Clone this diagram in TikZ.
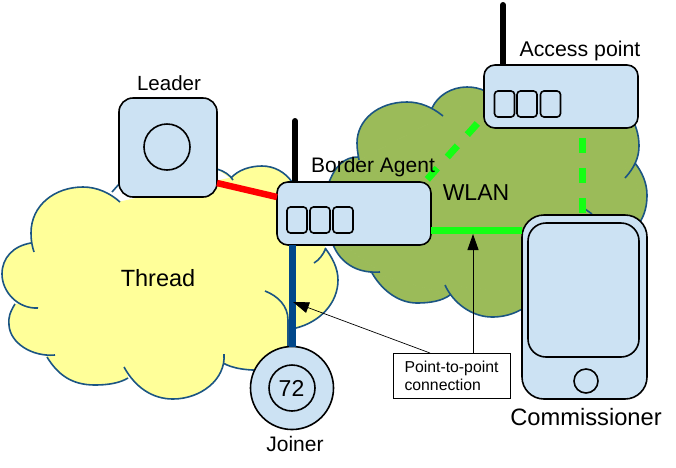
\documentclass[tikz,border=0pt]{standalone}
\usepackage{fontspec}
\setmainfont{Liberation Sans}
\usetikzlibrary{arrows.meta}

\definecolor{devblue}{HTML}{CCE2F3}
\definecolor{threadyellow}{HTML}{FFFF99}
\definecolor{wlangreen}{HTML}{9BBB59}
\definecolor{cloudblue}{HTML}{1B5583}
\definecolor{linkblue}{HTML}{00478A}
\definecolor{linkgreen}{HTML}{14FF14}

\tikzset{
  device/.style={draw=black, fill=devblue, line width=1.6pt, outer sep=0pt, inner sep=0pt, rounded corners=#1},
  slot/.style={device=3.5pt, minimum width=20pt, minimum height=26pt},
  ring/.style={draw=black, fill=devblue, line width=1.6pt, circle, outer sep=0pt, inner sep=0pt},
  antenna/.style={line width=6pt, line cap=round},
  cloudline/.style={draw=cloudblue, line width=1.6pt},
  wifi/.style={draw=linkgreen, line width=7pt},
  wifidash/.style={wifi, dash pattern=on 15pt off 15pt, dash phase=20pt},
  callout/.style={line width=0.7pt, -{Triangle[length=16pt, width=11pt]}},
  caption/.style={anchor=base, inner sep=0pt}
}

% cloud outlines, one open stroke per lobe
\def\wlanlobes{
  (443,116) .. controls (432,107) and (420,102) .. (407,102) .. controls (378,102) and (357,120) .. (357,143) .. controls (357,149) and (358,154) .. (359,160)
  (432,108) .. controls (438,95) and (452,87) .. (467,87) .. controls (480,87) and (492,92) .. (500,105)
  (630,115) .. controls (636,125) and (639,135) .. (639,146) .. controls (639,158) and (634,168) .. (625,178)
  (635,163) .. controls (642,172) and (647,183) .. (647,195) .. controls (647,205) and (645,214) .. (640,222)
  (358,157) .. controls (345,157) and (335,165) .. (328,185)
  (330,235) .. controls (335,258) and (352,274) .. (380,272)
  (372,273) .. controls (383,292) and (400,303) .. (417,303) .. controls (430,303) and (442,301) .. (450,295)
  (445,285) .. controls (453,303) and (472,317) .. (492,317) .. controls (510,317) and (525,310) .. (540,295)
  (585,209) -- (592,214)
}
\def\threadlobes{
  (120,202) .. controls (110,193) and (97,187) .. (83,187) .. controls (55,187) and (31,205) .. (31,233) .. controls (31,240) and (32,246) .. (34,252)
  (31,243) .. controls (13,246) and (2,258) .. (2,274) .. controls (2,292) and (18,309) .. (38,308)
  (15,304) .. controls (10,312) and (8,318) .. (9,325) .. controls (10,343) and (32,357) .. (55,355)
  (47,357) .. controls (58,375) and (72,385) .. (95,385) .. controls (108,385) and (120,383) .. (128,378)
  (124,367) .. controls (135,387) and (152,399) .. (173,399) .. controls (200,399) and (226,380) .. (224,354)
  (223,363) .. controls (232,368) and (245,371) .. (270,370)
  (296,328) .. controls (320,322) and (338,303) .. (338,280) .. controls (338,268) and (332,257) .. (325,248)
  (314,263) .. controls (319,260) and (323,255) .. (326,248)
  (265,291) .. controls (278,296) and (288,306) .. (288,320) -- (288,350)
  (231,178) .. controls (238,170) and (250,166) .. (262,166) .. controls (274,166) and (285,172) .. (292,182)
  (217,169) .. controls (224,171) and (230,175) .. (233,180)
  (112,192) -- (120,183)
}

\begin{document}
\begin{tikzpicture}[x=1pt, y=-1pt]
  \useasboundingbox (0,0) rectangle (676,467);

  % clouds
  \fill[wlangreen] \wlanlobes;
  \filldraw[wlangreen, line width=1pt] (443,116) -- (359,160) -- (358,157) -- (328,185) -- (330,235) -- (380,272) -- (372,273) -- (450,295) -- (445,285) -- (540,295) -- (640,222) -- (635,163) -- (625,178) -- (630,115) -- (500,105) -- (432,108) -- cycle;
  \draw[cloudline] \wlanlobes;
  \fill[threadyellow] \threadlobes;
  \filldraw[threadyellow, line width=1pt] (120,202) -- (34,252) -- (31,243) -- (38,308) -- (15,304) -- (55,355) -- (47,357) -- (128,378) -- (124,367) -- (224,354) -- (223,363) -- (270,370) -- (288,350) -- (288,330) -- (296,328) -- (325,248) -- (292,182) -- (231,178) -- cycle;
  \draw[cloudline] \threadlobes;

  % devices
  \coordinate (agenttip) at (295,121);
  \coordinate (accesstip) at (503,5);
  \draw[antenna] (agenttip) -- (295,182);
  \draw[antenna] (accesstip) -- (503,65);

  % links
  \coordinate (apdash) at (484,116);
  \coordinate (agentdash) at (424,183);
  \coordinate (dashtop) at (582,128);
  \coordinate (dashend) at (582,215);
  \draw[wifidash] (apdash) -- (agentdash);
  \draw[wifidash] (dashtop) -- (dashend);

  \node[device=14pt, minimum width=98pt, minimum height=99pt] (leader) at (168,147.5) {};
  \node[ring, minimum size=46pt] (leaderring) at (167,147) {};

  \node[device=11pt, minimum width=154pt, minimum height=63pt] (agent) at (354,213.5) {};
  \node[slot] (agentslota) at (297,220) {};
  \node[slot] (agentslotb) at (320,220) {};
  \node[slot] (agentslotc) at (343,220) {};

  \node[device=11pt, minimum width=154pt, minimum height=63pt] (access) at (561,96.5) {};
  \node[slot] (accessslota) at (504.5,104) {};
  \node[slot] (accessslotb) at (527,104) {};
  \node[slot] (accessslotc) at (550.5,104) {};

  \node[device=22pt, minimum width=125pt, minimum height=184pt] (commissioner) at (584.5,307) {};
  \node[device=18pt, minimum width=111pt, minimum height=134pt] (screen) at (583.5,290) {};
  \node[ring, minimum size=24pt] (homekey) at (586,381) {};

  \node[ring, minimum size=83pt] (joiner) at (292,388) {};
  \node[ring, minimum size=46pt] (joinerring) at (292,388) {};

  \draw[line width=6.5pt, red] ([yshift=-35.5pt]leader.east) -- ([yshift=16.5pt]agent.west);
  \draw[line width=7pt, linkblue] (agent.south -| joiner) -- (joiner.north);
  \draw[wifi] ([yshift=-16.5pt]agent.east) -- ([yshift=77pt]commissioner.west);

  % labels
  \node[caption, font=\fontsize{20.5}{24}\selectfont] (leaderlabel) at (169,90) {Leader};
  \node[caption, font=\fontsize{21}{24}\selectfont] (agentlabel) at (373,172) {Border Agent};
  \node[caption, font=\fontsize{21.3}{24}\selectfont] (accesslabel) at (580,56) {Access point};
  \node[caption, font=\fontsize{23.5}{28}\selectfont] (threadlabel) at (158,286) {Thread};
  \node[caption, font=\fontsize{23}{28}\selectfont] (wlanlabel) at (476,200) {WLAN};
  \node[caption, font=\fontsize{23.7}{28}\selectfont] (commissionerlabel) at (586,425) {Commissioner};
  \node[caption, font=\fontsize{21}{24}\selectfont] (joinerlabel) at (295,451) {Joiner};
  \node[caption, font=\fontsize{23}{28}\selectfont] (joinernumber) at (291.5,396) {72};

  % note and its arrows
  \node[draw=black, fill=white, line width=1pt, outer sep=0pt, inner sep=0pt, minimum width=117pt, minimum height=45pt, align=left, font=\fontsize{15.8}{18}\selectfont] (note) at (451.5,375.5) {Point-to-point\\connection};
  \coordinate (bluetip) at (293,302);
  \coordinate (greentip) at (473,234);
  \draw[callout] ([xshift=-21.5pt]note.north) -- (bluetip);
  \draw[callout, line width=1pt] ([xshift=21.5pt]note.north) -- (greentip);
\end{tikzpicture}
\end{document}
